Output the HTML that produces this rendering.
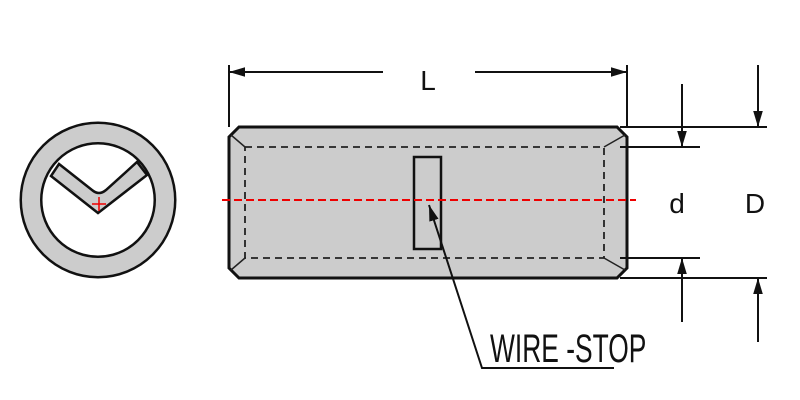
<!DOCTYPE html>
<html><head><style>body{margin:0;background:#fff}svg{display:block}</style></head>
<body>
<svg width="800" height="400" viewBox="0 0 800 400" xmlns="http://www.w3.org/2000/svg">
<defs>
<marker id="b" viewBox="0 0 10 10" refX="10" refY="5" markerWidth="16" markerHeight="16" markerUnits="userSpaceOnUse" orient="auto"><path d="M0,2 L10,5 L0,8 z" fill="#111"/></marker>
</defs>
<!-- end view -->
<circle cx="98" cy="200" r="67" fill="none" stroke="#111" stroke-width="23"/>
<circle cx="98" cy="200" r="67" fill="none" stroke="#ccc" stroke-width="18"/>
<path d="M51,176 L98,213 L147,175 L137,162 L106,190 Q99,196 92,190 L59,164 z" fill="#ccc" stroke="#111" stroke-width="2.5"/>
<path d="M92,204 H106 M99,197 V211" stroke="#e00" stroke-width="1.5"/>
<!-- body -->
<path d="M239,127 H617 L627,137 V268 L617,278 H239 L229,268 V137 z" fill="#cccccc" stroke="#111" stroke-width="3"/>
<path d="M245,147 H604 V258 H245 z" fill="none" stroke="#222" stroke-width="1.8" stroke-dasharray="7,5"/>
<path d="M231,135 L245,147 M231,270 L245,258 M625,135 L604,147 M625,270 L604,258" stroke="#222" stroke-width="1.5"/>
<rect x="414" y="157" width="27" height="92" fill="none" stroke="#111" stroke-width="2.5"/>
<line x1="222" y1="200" x2="636" y2="200" stroke="#e00" stroke-width="2" stroke-dasharray="8,4"/>
<!-- L dimension -->
<path d="M229,65 V127 M627,65 V127" stroke="#111" stroke-width="2"/>
<line x1="383" y1="72" x2="229" y2="72" stroke="#111" stroke-width="2" marker-end="url(#b)"/>
<line x1="475" y1="72" x2="627" y2="72" stroke="#111" stroke-width="2" marker-end="url(#b)"/>
<text x="428" y="90" font-family="Liberation Sans, sans-serif" font-size="28" text-anchor="middle" fill="#111">L</text>
<!-- d/D -->
<path d="M620,127 H767 M620,147 H700 M620,258 H700 M620,278 H767" stroke="#111" stroke-width="2"/>
<line x1="682" y1="84" x2="682" y2="147" stroke="#111" stroke-width="2" marker-end="url(#b)"/>
<line x1="758" y1="65" x2="758" y2="127" stroke="#111" stroke-width="2" marker-end="url(#b)"/>
<line x1="682" y1="322" x2="682" y2="258" stroke="#111" stroke-width="2" marker-end="url(#b)"/>
<line x1="758" y1="342" x2="758" y2="278" stroke="#111" stroke-width="2" marker-end="url(#b)"/>
<text x="677" y="213" font-family="Liberation Sans, sans-serif" font-size="28" text-anchor="middle" fill="#111">d</text>
<text x="755" y="213" font-family="Liberation Sans, sans-serif" font-size="28" text-anchor="middle" fill="#111">D</text>
<!-- leader -->
<polyline points="614,368 482,368 429,205" fill="none" stroke="#111" stroke-width="2" marker-end="url(#b)"/>
<text x="0" y="0" transform="translate(490,362) scale(0.66,1)" font-family="Liberation Sans, sans-serif" font-size="40" fill="#111">WIRE -STOP</text>
</svg>
</body></html>
